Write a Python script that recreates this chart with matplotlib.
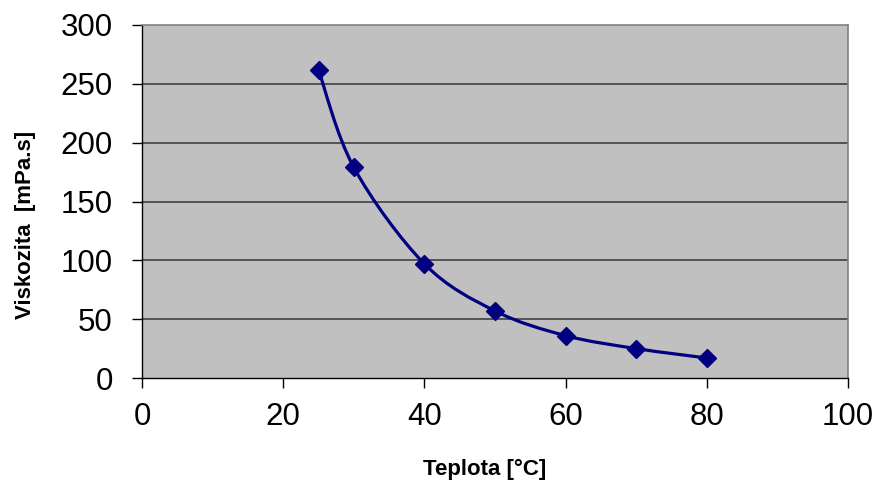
import matplotlib
matplotlib.use("Agg")
import matplotlib.pyplot as plt
from matplotlib.path import Path
from matplotlib.patches import PathPatch
import numpy as np

plt.rcParams['font.family'] = ['Liberation Sans', 'DejaVu Sans']

teplota = [25, 30, 40, 50, 60, 70, 80]
viskozita = [262, 179, 97, 57, 36, 25, 17]
xticks = [0, 20, 40, 60, 80, 100]
yticks = [0, 50, 100, 150, 200, 250, 300]

fig = plt.figure(figsize=(8.77, 4.84), dpi=100)
ax = fig.add_axes([142/877, 1 - 378/484, (848-142)/877, (378-25)/484])
ax.set_facecolor('#C0C0C0')
ax.set_xlim(0, 100)
ax.set_ylim(0, 300)

for y in yticks[1:-1]:
    ax.axhline(y, color='#404040', lw=1.2, zorder=1)

# smoothed line (Catmull-Rom style Bezier, as Excel smoothing)
P = np.column_stack([teplota, viskozita]).astype(float)
verts = [tuple(P[0])]
codes = [Path.MOVETO]
n = len(P)
for i in range(n - 1):
    p0 = P[i - 1] if i > 0 else P[i]
    p1 = P[i]
    p2 = P[i + 1]
    p3 = P[i + 2] if i + 2 < n else P[i + 1]
    c1 = p1 + (p2 - p0) / 6
    c2 = p2 - (p3 - p1) / 6
    verts += [tuple(c1), tuple(c2), tuple(p2)]
    codes += [Path.CURVE4] * 3
ax.add_patch(PathPatch(Path(verts, codes), fill=False, edgecolor='#000080', lw=2.3, zorder=3))
ax.plot(teplota, viskozita, linestyle='none', marker='D', markersize=9,
        color='#000080', zorder=4)

ax.set_xticks(xticks)
ax.set_yticks(yticks)
ax.tick_params(axis='both', labelsize=22.5, length=7, width=1, direction='out', color='black')
ax.tick_params(axis='x', pad=10)
ax.tick_params(axis='y', pad=14)
for s in ['top', 'right']:
    ax.spines[s].set_color('#808080')
    ax.spines[s].set_linewidth(1.2)
for s in ['left', 'bottom']:
    ax.spines[s].set_color('black')
    ax.spines[s].set_linewidth(1)

ax.set_xlabel('Teplota [°C]', fontsize=16, fontweight='bold', labelpad=20)
ax.set_ylabel('Viskozita  [mPa.s]', fontsize=16, fontweight='bold', labelpad=18)
ax.xaxis.label.set_x(0.486)
ax.yaxis.label.set_y(0.433)

fig.savefig('out.png', dpi=100)
